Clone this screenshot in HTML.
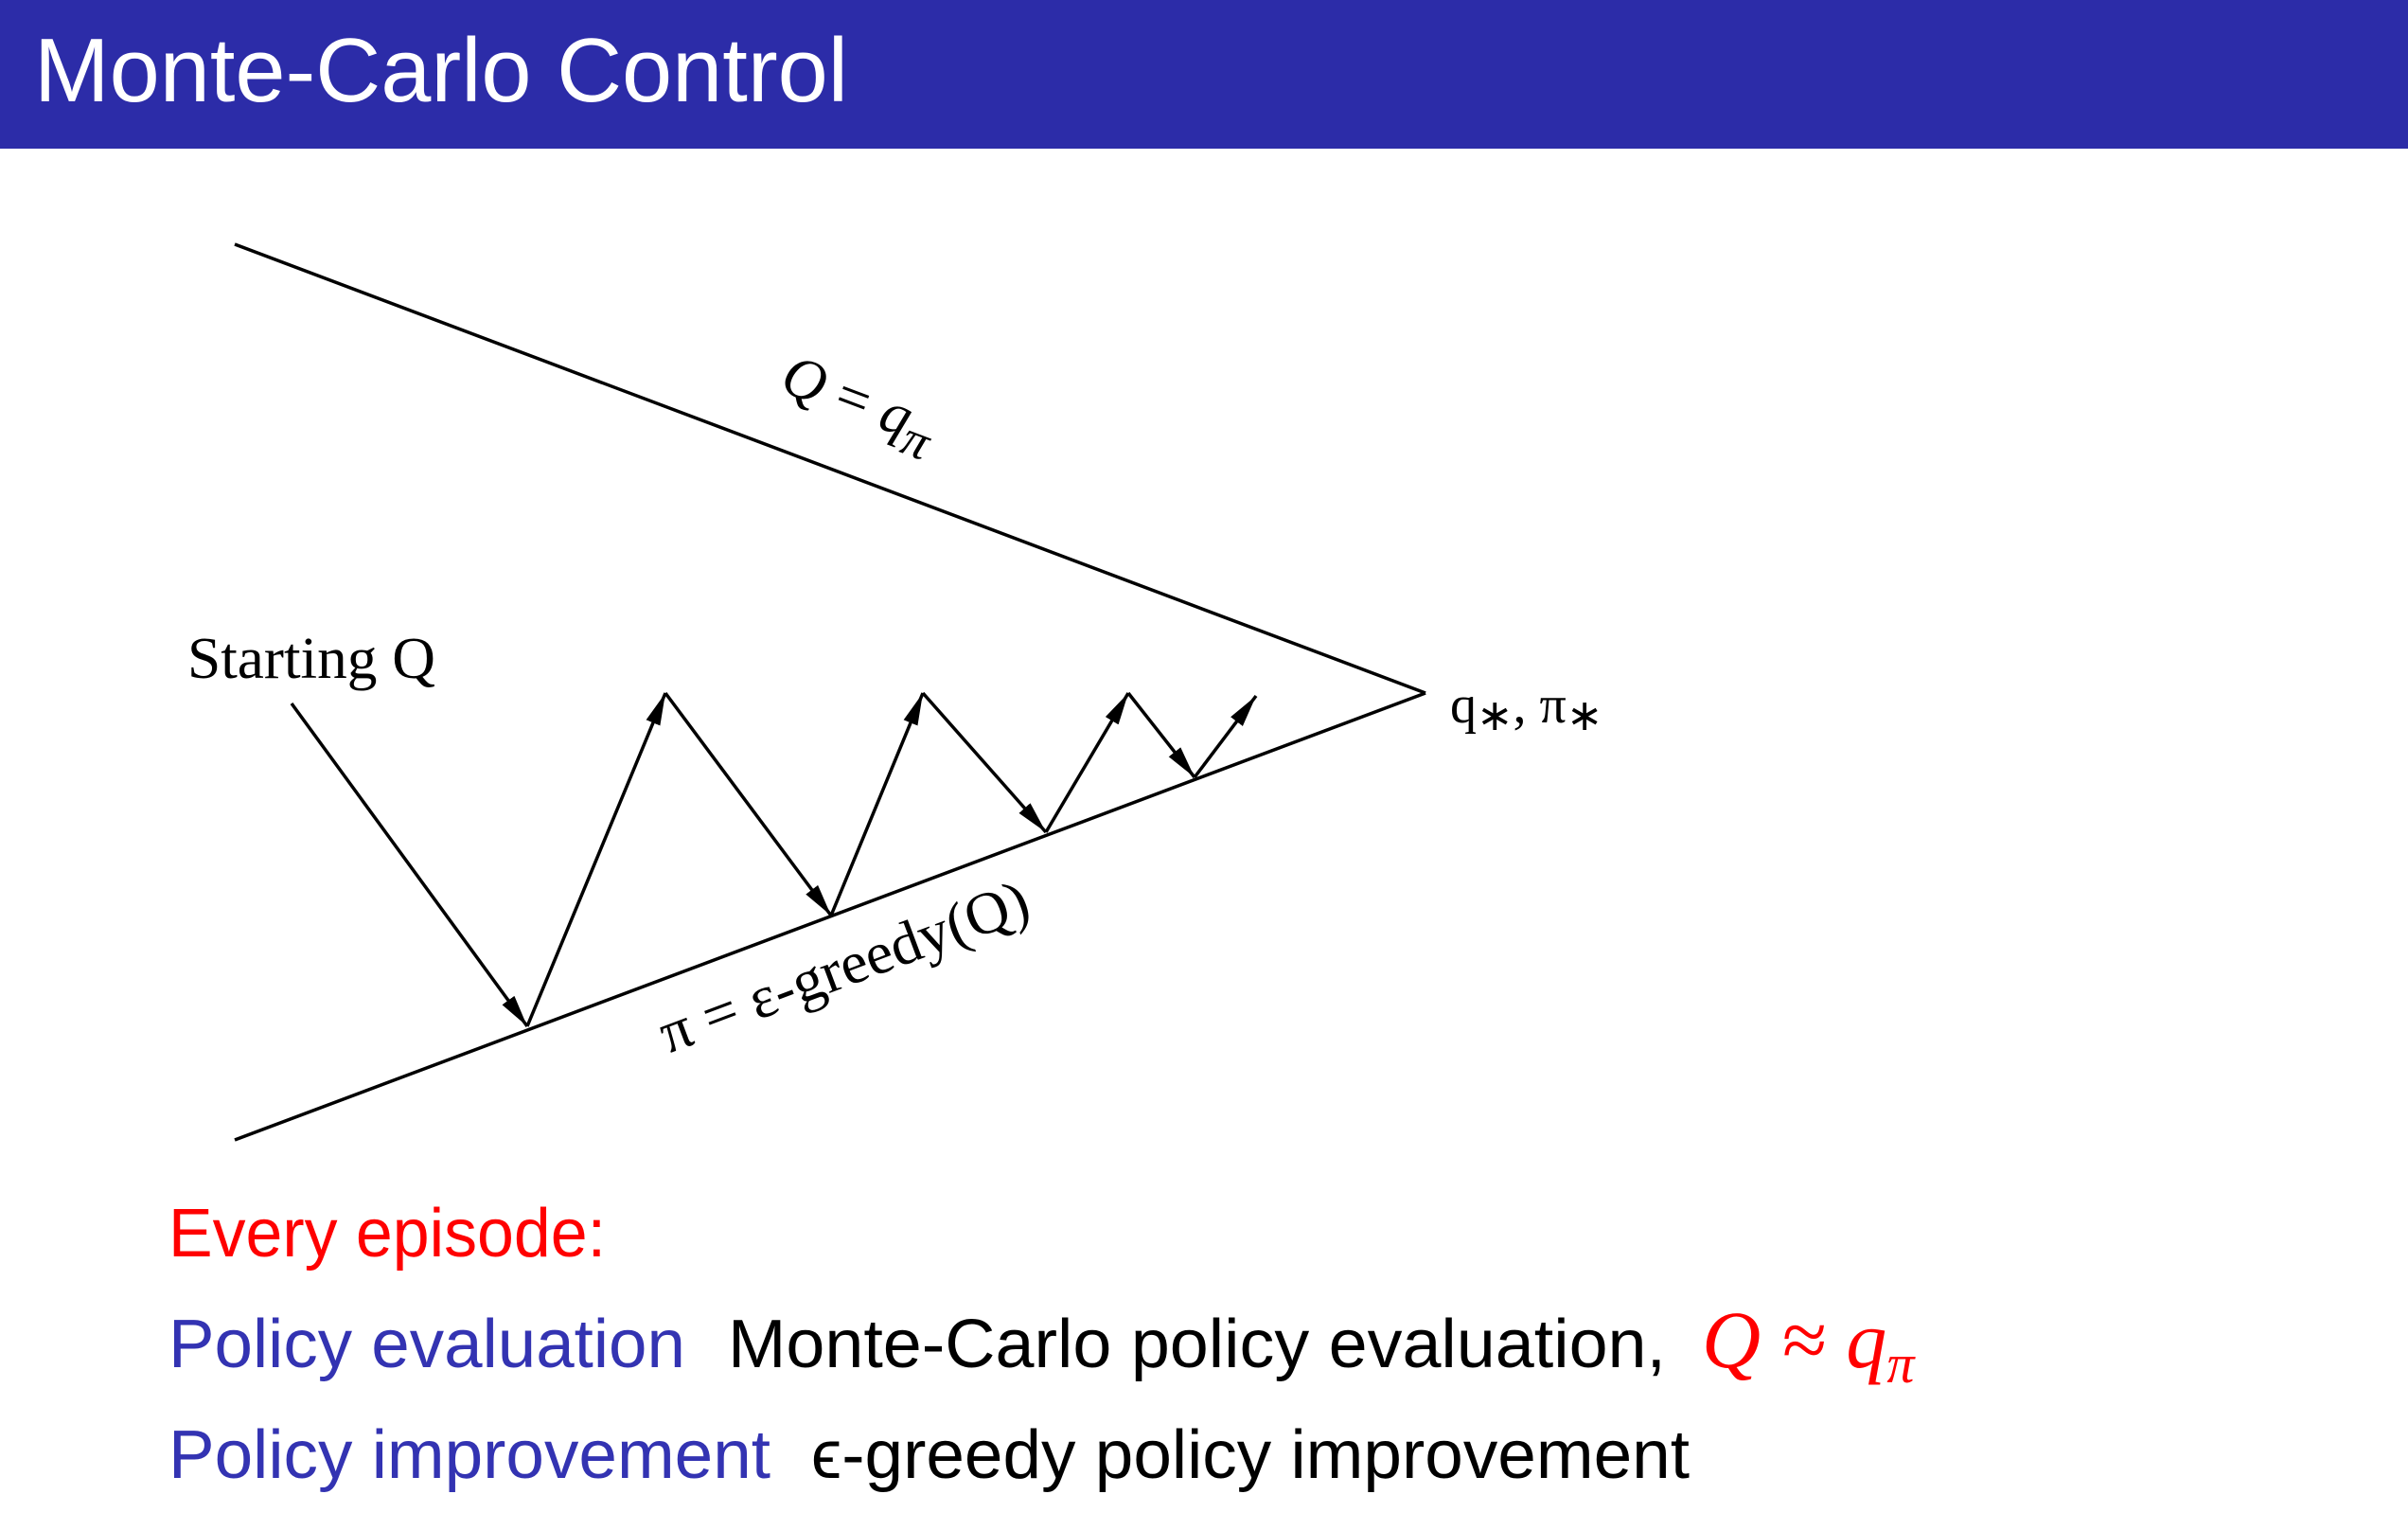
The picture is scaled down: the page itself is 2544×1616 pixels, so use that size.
<!DOCTYPE html>
<html><head><meta charset="utf-8"><style>
html,body{margin:0;padding:0;background:#fff;}
svg{display:block;}
</style></head><body>
<svg id="s" width="2544" height="1616" viewBox="0 0 2544 1616" xmlns="http://www.w3.org/2000/svg">
<defs>
<marker id="ah2" viewBox="0 0 34 16" refX="34" refY="8" markerWidth="34" markerHeight="16" markerUnits="userSpaceOnUse" orient="auto">
<path d="M0,0 L34,8 L0,16 z" fill="#000"/>
</marker>
</defs>
<rect x="0" y="0" width="2544" height="157" fill="#2c2ca8"/>
<text x="36" y="107" font-family="'Liberation Sans', sans-serif" font-size="96" fill="#fff" textLength="860" lengthAdjust="spacingAndGlyphs">Monte-Carlo Control</text>

<line x1="248" y1="258" x2="1506" y2="732" stroke="#000" stroke-width="3.5"/>
<line x1="248" y1="1204" x2="1506" y2="732" stroke="#000" stroke-width="3.5"/>
<g id="zig"></g>

<text x="198" y="716" font-family="'Liberation Serif', serif" font-size="62" fill="#000" textLength="262" lengthAdjust="spacingAndGlyphs">Starting Q</text>
<text x="1532" y="763" font-family="'Liberation Serif', serif" font-size="56" fill="#000">q<tspan font-size="46" dy="8">∗</tspan><tspan dy="-8">, π</tspan><tspan font-size="46" dy="8">∗</tspan></text>
<text transform="translate(822,412) rotate(20.6)" font-family="'Liberation Serif', serif" font-size="62" fill="#000"><tspan font-style="italic">Q</tspan> = <tspan font-style="italic">q</tspan><tspan font-style="italic" font-size="54" dy="16">π</tspan></text>
<text transform="translate(706,1113) rotate(-20.6)" font-family="'Liberation Serif', serif" font-size="63" fill="#000" textLength="412" lengthAdjust="spacingAndGlyphs">π = ε-greedy(Q)</text>

<text x="178" y="1327" font-family="'Liberation Sans', sans-serif" font-size="72" fill="#ff0000" textLength="462" lengthAdjust="spacingAndGlyphs">Every episode:</text>
<text x="178" y="1444" font-family="'Liberation Sans', sans-serif" font-size="72" fill="#3333b2" textLength="546" lengthAdjust="spacingAndGlyphs">Policy evaluation</text>
<text x="769" y="1444" font-family="'Liberation Sans', sans-serif" font-size="72" fill="#000" textLength="991" lengthAdjust="spacingAndGlyphs">Monte-Carlo policy evaluation,</text>
<text x="1798" y="1444" font-family="'Liberation Serif', serif" font-size="86" font-style="italic" fill="#ff0000">Q ≈ q<tspan font-size="58" dy="16">π</tspan></text>
<text x="178" y="1561" font-family="'Liberation Sans', sans-serif" font-size="72" fill="#3333b2" textLength="636" lengthAdjust="spacingAndGlyphs">Policy improvement</text>
<text x="857" y="1561" font-family="'Liberation Sans', sans-serif" font-size="72" fill="#000" textLength="928" lengthAdjust="spacingAndGlyphs">ϵ-greedy policy improvement</text>
</svg>
<script>
const zigX = [308, 557, 703, 878, 975, 1105, 1192, 1262, 1327];
const zigY = [743, 1084, 732, 967, 732, 879, 732, 821, 735];
const g = document.getElementById('zig');
const NS = 'http://www.w3.org/2000/svg';
for (let i = 0; i < zigX.length - 1; i++) {
  const l = document.createElementNS(NS, 'line');
  l.setAttribute('x1', zigX[i]); l.setAttribute('y1', zigY[i]);
  l.setAttribute('x2', zigX[i+1]); l.setAttribute('y2', zigY[i+1]);
  l.setAttribute('stroke', '#000'); l.setAttribute('stroke-width', '3.5');
  l.setAttribute('marker-end', 'url(#ah2)');
  
  
  g.appendChild(l);
}
</script>
</body></html>
